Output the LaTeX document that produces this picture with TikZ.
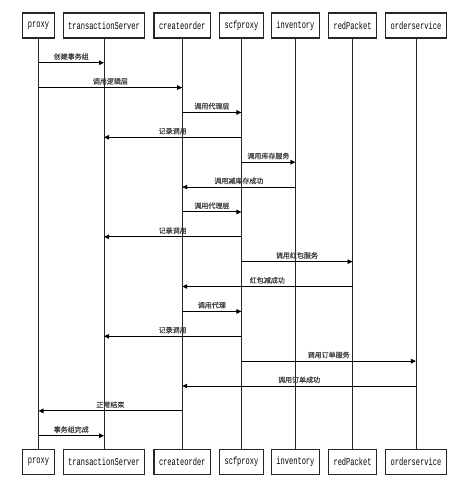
\documentclass[tikz,border=0pt]{standalone}
\usepackage{fontspec}
\newfontfamily\monofnt[FakeStretch=0.67]{Liberation Mono}
\newfontfamily\cjkfnt[FakeBold=0.6]{Noto Sans CJK SC}
\usetikzlibrary{arrows.meta,positioning}

\begin{document}
\begin{tikzpicture}[
  x=1pt, y=-1pt,
  actor/.style={draw=black!85, line width=1.1pt, minimum height=25pt, inner xsep=5pt,
                font=\monofnt\fontsize{10.5}{11}\selectfont},
  life/.style={line width=0.9pt, black!85},
  msg/.style={-{Triangle[length=5pt,width=4.5pt]}, line width=0.9pt},
  lbl/.style={above, inner sep=2.5pt, text=black!75, font=\cjkfnt\fontsize{7}{8}\selectfont}
]
  \useasboundingbox (0,0) rectangle (460,480);

  % participants, top row
  \node[actor] (proxy) at (38.5,25.5) {proxy};
  \node[actor, right=8pt of proxy] (transactionServer) {transactionServer};
  \node[actor, right=8pt of transactionServer] (createorder) {createorder};
  \node[actor, right=8pt of createorder] (scfproxy) {scfproxy};
  \node[actor, right=7pt of scfproxy] (inventory) {inventory};
  \node[actor, right=8pt of inventory] (redPacket) {redPacket};
  \node[actor, right=8pt of redPacket] (orderservice) {orderservice};

  % same participants at the foot, plus lifelines
  \foreach \n in {proxy,transactionServer,createorder,scfproxy,inventory,redPacket,orderservice}
  {
    \node[actor, below=410pt of \n] (\n-foot) {\n};
    \draw[life] (\n) -- (\n-foot);
  }

  % messages, top to bottom
  \foreach \from/\to/\txt [count=\i] in {
      proxy/transactionServer/创建事务组,
      proxy/createorder/调用逻辑层,
      createorder/scfproxy/调用代理层,
      scfproxy/transactionServer/记录调用,
      scfproxy/inventory/调用库存服务,
      inventory/createorder/调用减库存成功,
      createorder/scfproxy/调用代理层,
      scfproxy/transactionServer/记录调用,
      scfproxy/redPacket/调用红包服务,
      redPacket/createorder/红包减成功,
      createorder/scfproxy/调用代理,
      scfproxy/transactionServer/记录调用,
      scfproxy/orderservice/调用订单服务,
      orderservice/createorder/调用订单成功,
      createorder/proxy/正常结束,
      proxy/transactionServer/事务组完成}
  {
    \coordinate (m\i) at (0,{62.7+(\i-1)*24.87});
    \draw[msg] (\from |- m\i) -- node[lbl] {\txt} (\to |- m\i);
  }
\end{tikzpicture}
\end{document}
